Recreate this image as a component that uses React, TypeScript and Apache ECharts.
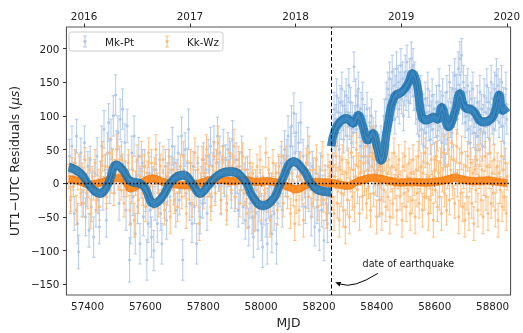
import React, { useEffect, useRef } from "react";
import * as echarts from "echarts";

const FONT = "'DejaVu Sans', sans-serif";

// [MJD, residual (µs), error (µs)]
const mkPtPoints: number[][] = [
  [57338,40,25],[57342,-20,22],[57346,55,30],[57350,10,20],[57354,-45,25],[57358,30,18],[57362,70,25],[57366,-60,30],[57369,-102,25],[57373,20,20],
  [57377,45,22],[57381,-30,20],[57385,5,18],[57389,60,25],[57393,-50,28],[57397,-15,20],[57401,25,22],[57405,-70,25],[57409,35,20],[57413,-35,22],
  [57417,0,18],[57421,-80,30],[57425,15,20],[57429,-40,25],[57433,40,28],[57437,-25,20],[57441,-65,25],[57445,10,22],[57449,55,30],[57453,-20,20],
  [57457,80,28],[57461,20,22],[57465,-55,25],[57469,45,30],[57473,90,28],[57477,-10,20],[57481,65,30],[57485,30,22],[57489,100,30],[57493,10,25],
  [57497,131,30],[57501,50,28],[57505,75,25],[57509,-30,25],[57513,95,30],[57517,40,22],[57521,110,30],[57525,5,25],[57529,60,28],[57533,-40,30],
  [57537,85,25],[57541,20,22],[57545,-114,33],[57549,-60,30],[57553,45,25],[57557,-20,28],[57561,70,30],[57565,-75,30],[57569,10,22],[57573,-35,25],
  [57577,40,28],[57581,-90,30],[57585,0,22],[57589,30,20],[57593,-50,28],[57597,25,25],[57601,-20,22],[57605,-114,30],[57609,-60,28],[57613,15,25],
  [57617,-40,25],[57621,-80,30],[57625,5,20],[57629,-100,30],[57633,-30,25],[57637,20,22],[57641,-60,28],[57645,-15,22],[57649,35,25],[57653,-45,25],
  [57657,-90,30],[57661,0,20],[57665,-30,22],[57669,25,25],[57673,-55,28],[57677,10,20],[57681,40,25],[57685,-20,22],[57689,20,20],[57693,55,28],
  [57697,-10,22],[57701,30,25],[57705,-40,25],[57709,15,20],[57713,45,25],[57717,-25,22],[57721,5,20],[57725,70,28],[57729,-114,30],[57733,20,22],
  [57737,50,25],[57741,-15,20],[57745,30,22],[57749,80,30],[57753,-30,25],[57757,10,20],[57761,-60,28],[57765,25,22],[57769,-35,25],[57773,0,20],
  [57777,-90,30],[57781,30,25],[57785,-20,22],[57789,-50,25],[57793,5,20],[57797,-30,22],[57801,35,25],[57805,-10,20],[57809,20,22],[57813,-45,25],
  [57817,40,25],[57821,0,20],[57825,55,28],[57829,-20,22],[57833,25,20],[57837,60,25],[57841,-5,22],[57845,30,20],[57849,70,28],[57853,10,22],
  [57857,45,25],[57861,-25,22],[57865,20,20],[57869,55,25],[57873,0,20],[57877,35,22],[57881,-30,25],[57885,50,25],[57889,15,20],[57893,40,22],
  [57897,-15,22],[57901,65,28],[57905,20,20],[57909,-20,22],[57913,35,25],[57917,5,20],[57921,-40,25],[57925,25,22],[57929,-10,20],[57933,45,25],
  [57937,-35,25],[57941,10,20],[57945,-55,28],[57949,-15,22],[57953,20,20],[57957,-65,28],[57961,-30,22],[57965,5,20],[57969,-50,25],[57973,-80,30],
  [57977,-20,22],[57981,-45,25],[57985,-10,20],[57989,-70,28],[57993,-35,22],[57997,0,20],[58001,-60,25],[58005,-95,30],[58009,-40,22],[58013,-15,20],
  [58017,-55,25],[58021,-90,30],[58025,-30,22],[58029,-5,20],[58033,-50,25],[58037,-75,28],[58041,-20,22],[58045,-45,25],[58049,5,22],[58053,-90,30],
  [58057,-30,22],[58061,15,25],[58065,-15,20],[58069,30,25],[58073,-40,25],[58077,20,22],[58081,50,28],[58085,0,20],[58089,40,25],[58093,70,30],
  [58097,15,22],[58101,55,28],[58105,85,30],[58109,30,25],[58113,104,30],[58117,45,25],[58121,75,28],[58125,10,22],[58129,60,30],[58133,25,22],
  [58137,90,30],[58141,-10,25],[58145,40,25],[58149,0,22],[58153,-35,25],[58157,20,22],[58161,55,28],[58165,-20,22],[58169,10,20],[58173,-50,28],
  [58177,25,22],[58181,-15,20],[58185,-65,28],[58189,15,22],[58193,-35,25],[58197,-5,20],[58201,-70,30],[58205,20,25],[58209,-40,25],[58213,-10,22],
  [58217,-85,30],[58221,5,22],[58225,-30,25],[58229,-60,28],[58233,-20,25],[58237,10,22],[58240,-45,25],
  [58246,30,20],[58249,80,22],[58252,110,25],[58255,60,20],[58258,95,22],[58261,130,25],[58264,75,20],[58267,105,22],[58270,50,25],[58273,120,25],
  [58276,85,20],[58279,140,25],[58282,100,22],[58285,65,20],[58288,115,22],[58291,90,20],[58294,130,25],[58297,70,22],[58300,105,22],[58303,145,25],
  [58306,85,20],[58309,120,22],[58312,60,22],[58315,100,20],[58318,75,22],[58321,173,22],[58324,95,20],[58327,130,25],[58330,80,20],[58333,115,22],
  [58336,140,25],[58339,90,22],[58342,55,22],[58345,110,25],[58348,75,20],[58351,125,25],[58354,60,22],[58357,95,22],[58360,40,22],[58363,80,20],
  [58366,110,25],[58369,55,22],[58372,30,25],[58375,90,22],[58378,65,20],[58381,100,25],[58384,45,22],[58387,75,22],[58390,20,25],[58393,60,22],
  [58396,85,22],[58399,35,25],[58402,5,25],[58405,50,22],[58408,-25,25],[58411,25,22],[58414,60,25],[58417,0,25],[58420,40,22],[58423,75,25],
  [58426,100,25],[58429,60,22],[58432,125,25],[58435,90,22],[58438,140,25],[58441,110,22],[58444,155,25],[58447,100,22],[58450,130,25],[58453,165,25],
  [58456,115,22],[58459,145,25],[58462,95,22],[58465,135,25],[58468,170,25],[58471,120,22],[58474,150,25],[58477,110,22],[58480,140,25],[58483,175,25],
  [58486,125,22],[58489,155,25],[58492,100,22],[58495,140,25],[58498,165,25],[58501,130,22],[58504,180,25],[58507,145,22],[58510,120,22],[58513,160,25],
  [58516,140,22],[58519,185,25],[58522,150,22],[58525,175,25],[58528,130,22],[58531,155,25],[58534,110,22],[58537,140,25],[58540,95,22],[58543,120,25],
  [58546,70,22],[58549,100,22],[58552,135,25],[58555,80,22],[58558,110,22],[58561,55,25],[58564,95,22],[58567,125,25],[58570,75,22],[58573,105,22],
  [58576,140,25],[58579,85,22],[58582,115,22],[58585,65,22],[58588,100,22],[58591,130,25],[58594,80,22],[58597,110,22],[58600,35,25],[58603,90,22],
  [58606,120,25],[58609,70,22],[58612,100,22],[58615,145,25],[58618,85,22],[58621,115,22],[58624,60,22],[58627,130,25],[58630,95,22],[58633,50,22],
  [58636,110,25],[58639,80,22],[58642,135,25],[58645,65,22],[58648,100,22],[58651,150,25],[58654,90,22],[58657,120,22],[58660,75,22],[58663,140,25],
  [58666,105,22],[58669,160,25],[58672,115,22],[58675,140,22],[58678,95,22],[58681,170,25],[58684,125,22],[58687,185,25],[58690,140,22],[58693,190,25],
  [58696,110,22],[58699,150,25],[58702,120,22],[58705,90,22],[58708,135,25],[58711,100,22],[58714,145,25],[58717,80,22],[58720,115,22],[58723,60,25],
  [58726,125,25],[58729,95,22],[58732,140,25],[58735,75,22],[58738,105,22],[58741,50,25],[58744,90,22],[58747,120,25],[58750,70,22],[58753,100,22],
  [58756,135,25],[58759,80,22],[58762,110,22],[58765,55,22],[58768,95,22],[58771,130,25],[58774,75,22],[58777,105,22],[58780,145,25],[58783,90,22],
  [58786,120,22],[58789,65,22],[58792,110,25],[58795,150,25],[58798,95,22],[58801,125,22],[58804,80,22],[58807,140,25],[58810,100,22],[58813,160,25],
  [58816,115,22],[58819,145,25],[58822,90,22],[58825,130,25],[58828,105,22],[58831,150,25],[58834,85,22],[58837,120,22],[58840,60,25],[58843,110,22],
  [58846,140,25],[58849,95,22],
];

const kkWzPoints: number[][] = [
  [57336,10,18],[57341,-25,20],[57346,20,18],[57351,-5,15],[57356,30,20],[57361,-40,22],[57366,5,15],[57371,25,18],[57376,-15,18],[57381,15,15],
  [57386,-30,20],[57391,35,18],[57396,0,15],[57401,-20,18],[57406,20,18],[57411,-45,22],[57416,10,15],[57421,-10,15],[57426,30,20],[57431,-25,18],
  [57436,5,15],[57441,-35,20],[57446,15,18],[57451,40,22],[57456,-5,15],[57461,25,18],[57466,-20,18],[57471,10,15],[57476,45,22],[57481,0,15],
  [57486,30,20],[57491,-15,18],[57496,20,15],[57501,50,22],[57506,5,15],[57511,35,20],[57516,-10,15],[57521,25,18],[57526,-30,20],[57531,15,18],
  [57536,-5,15],[57541,30,20],[57546,-40,22],[57551,-10,18],[57556,20,20],[57561,-55,25],[57566,0,18],[57571,35,22],[57576,-25,20],[57581,10,15],
  [57586,40,22],[57591,-15,18],[57596,25,18],[57601,-35,22],[57606,15,18],[57611,45,22],[57616,-5,15],[57621,30,20],[57626,-20,18],[57631,20,18],
  [57636,50,22],[57641,0,15],[57646,-30,20],[57651,25,18],[57656,-10,15],[57661,35,20],[57666,-40,22],[57671,10,15],[57676,-15,18],[57681,30,20],
  [57686,-50,25],[57691,5,15],[57696,20,18],[57701,-25,20],[57706,15,15],[57711,-35,22],[57716,0,15],[57721,25,18],[57726,-20,18],[57731,40,22],
  [57736,-5,15],[57741,-45,22],[57746,15,18],[57751,-10,15],[57756,30,20],[57761,-30,20],[57766,5,15],[57771,45,22],[57776,-15,18],[57781,20,18],
  [57786,-60,25],[57791,0,15],[57796,35,20],[57801,-20,18],[57806,15,15],[57811,50,22],[57816,-5,15],[57821,25,18],[57826,-35,20],[57831,10,15],
  [57836,40,22],[57841,-15,18],[57846,30,20],[57851,60,25],[57856,5,15],[57861,-25,20],[57866,35,20],[57871,0,15],[57876,20,18],[57881,-40,22],
  [57886,15,18],[57891,45,22],[57896,-10,15],[57901,25,18],[57906,55,25],[57911,-20,18],[57916,10,15],[57921,35,20],[57926,-30,20],[57931,5,15],
  [57936,40,20],[57941,-15,18],[57946,20,18],[57951,-45,22],[57956,0,15],[57961,30,20],[57966,-25,18],[57971,15,15],[57976,-50,22],[57981,5,15],
  [57986,25,18],[57991,-20,18],[57996,35,20],[58001,-35,20],[58006,10,15],[58011,-10,15],[58016,45,22],[58021,-25,18],[58026,20,18],[58031,-55,25],
  [58036,0,15],[58041,30,20],[58046,-15,18],[58051,15,15],[58056,-40,22],[58061,25,18],[58066,-5,15],[58071,40,22],[58076,-30,20],[58081,10,15],
  [58086,35,20],[58091,-20,18],[58096,5,15],[58101,-45,22],[58106,15,18],[58111,-15,18],[58116,-60,25],[58121,-25,20],[58126,10,18],[58131,-40,22],
  [58136,25,20],[58141,-10,15],[58146,-55,25],[58151,0,15],[58156,30,22],[58161,-20,18],[58166,45,25],[58171,5,15],[58176,-30,20],[58181,20,18],
  [58186,-10,15],[58191,35,22],[58196,-35,20],[58201,10,15],[58206,-15,18],[58211,40,22],[58216,-25,18],[58221,5,15],[58226,-45,22],[58231,25,18],
  [58236,-5,15],[58240,15,18],
  [58245,-20,20],[58249,25,20],[58252,-45,25],[58256,10,18],[58259,40,22],[58263,-30,22],[58266,5,18],[58270,-55,25],[58273,20,20],[58277,-15,20],
  [58280,35,22],[58284,-40,25],[58287,0,18],[58291,-65,25],[58294,15,20],[58298,-25,22],[58301,30,22],[58305,-50,25],[58308,5,18],[58312,45,25],
  [58315,-20,20],[58319,20,20],[58322,-35,22],[58326,10,18],[58329,50,25],[58333,-10,20],[58336,25,20],[58340,-45,25],[58343,15,18],[58347,40,22],
  [58350,-20,20],[58354,30,22],[58357,0,18],[58361,55,25],[58364,-30,22],[58368,20,20],[58371,-5,18],[58375,40,22],[58378,-40,25],[58382,25,20],
  [58385,60,25],[58389,-15,20],[58392,35,22],[58396,0,18],[58399,-50,25],[58403,20,20],[58406,45,22],[58410,-25,22],[58413,10,18],[58417,-45,25],
  [58420,30,22],[58424,-10,18],[58427,40,22],[58431,-35,22],[58434,15,18],[58438,-20,20],[58441,35,22],[58445,-50,25],[58448,5,18],[58452,25,20],
  [58455,-30,22],[58459,45,22],[58462,-5,18],[58466,20,20],[58469,-40,22],[58473,10,18],[58476,35,22],[58480,-20,20],[58483,0,18],[58487,-55,25],
  [58490,25,20],[58494,-15,20],[58497,40,22],[58501,-35,22],[58504,10,18],[58508,-10,18],[58511,30,22],[58515,-45,25],[58518,15,20],[58522,-25,20],
  [58525,35,22],[58529,0,18],[58532,-50,25],[58536,20,20],[58539,-15,20],[58543,40,22],[58546,-30,22],[58550,5,18],[58553,25,20],[58557,-40,25],
  [58560,15,18],[58564,-20,20],[58567,45,22],[58571,-5,18],[58574,30,22],[58578,-45,25],[58581,10,18],[58585,-25,20],[58588,35,22],[58592,0,18],
  [58595,-55,25],[58599,20,20],[58602,-10,18],[58606,40,22],[58609,-35,22],[58613,15,18],[58616,-20,20],[58620,30,22],[58623,-45,25],[58627,5,18],
  [58630,45,25],[58634,-15,20],[58637,25,20],[58641,-40,22],[58644,10,18],[58648,50,25],[58651,-25,22],[58655,20,20],[58658,60,25],[58662,-5,18],
  [58665,35,22],[58669,-30,22],[58672,15,18],[58676,55,25],[58679,0,20],[58683,-50,25],[58686,30,22],[58690,-15,20],[58693,45,25],[58697,-35,22],
  [58700,10,18],[58704,-55,25],[58707,25,22],[58711,-20,20],[58714,40,22],[58718,-45,25],[58721,5,18],[58725,30,22],[58728,-30,22],[58732,15,20],
  [58735,-60,25],[58739,20,20],[58742,-10,18],[58746,35,22],[58749,-40,25],[58753,10,18],[58756,50,25],[58760,-25,22],[58763,20,20],[58767,-50,25],
  [58770,0,18],[58774,40,22],[58777,-20,20],[58781,25,20],[58784,-45,25],[58788,10,18],[58791,45,22],[58795,-30,22],[58798,15,18],[58802,-15,20],
  [58805,35,22],[58809,-40,25],[58812,5,18],[58816,25,20],[58819,-55,25],[58823,15,18],[58826,-10,20],[58830,40,22],[58833,-35,22],[58837,20,20],
  [58840,-20,20],[58844,30,22],[58847,-45,25],[58850,10,20],
];

// smoothed fits [MJD, value]
const mkPtFitPre: number[][] = [
  [57335,24],[57375,15],[57409,-5],[57443,-15],[57472,0],[57500,27],[57523,19],[57545,4],[57591,-3],[57630,-30],[57659,-20],[57693,4],
  [57733,12],[57761,0],[57789,-15],[57818,-3],[57852,12],[57897,17],[57943,4],[57971,-20],[58005,-33],[58039,-25],[58068,0],[58113,32],
  [58147,19],[58181,-5],[58215,-12],[58242,-13],
];
const mkPtFitPost: number[][] = [
  [58242,55],[58256,80],[58272,91],[58295,96],[58318,89],[58335,101],[58352,84],[58369,64],[58386,74],[58400,55],[58414,34],[58437,84],
  [58460,128],[58488,136],[58510,150],[58522,163],[58539,146],[58556,98],[58573,94],[58596,98],[58610,95],[58624,113],[58647,84],[58670,106],
  [58687,133],[58704,113],[58732,108],[58766,91],[58800,98],[58823,131],[58834,108],[58851,113],
];
const kkWzFit: number[][] = [
  [57335,6],[57370,3],[57410,-2],[57445,1],[57475,5],[57505,8],[57530,3],[57548,-8],[57570,-4],[57600,4],[57625,7],[57660,2],[57695,-1],
  [57740,-3],[57780,-1],[57820,4],[57860,5],[57900,3],[57940,5],[57980,2],[58020,3],[58060,0],[58090,-5],[58123,-9],[58150,-4],[58190,2],
  [58220,1],[58250,0],[58280,-3],[58300,-4],[58330,2],[58360,6],[58386,8],[58420,6],[58450,3],[58480,1],[58520,2],[58560,1],[58600,2],
  [58640,5],[58670,8],[58700,5],[58740,3],[58780,4],[58820,2],[58851,0],
];
const mkPtBand = 6.3;
const kkWzBand = 5.5;

const earthquakeMjd = 58242;
const xTicks = [57400, 57600, 57800, 58000, 58200, 58400, 58600, 58800];
const yTicks = [-150, -100, -50, 0, 50, 100, 150, 200];
const yearTickMjd = [57388, 57754, 58119, 58484, 58849];
const yearLabels = ["2016", "2017", "2018", "2019", "2020"];

const X_MIN = 57327, X_MAX = 58862, Y_MIN = -166, Y_MAX = 232;
const GRID_TOP = 27, GRID_BOTTOM = 38;
const PX_PER_UNIT = (333 - GRID_TOP - GRID_BOTTOM) / (Y_MAX - Y_MIN);

function errRender(color: string, lineOpacity: number) {
  return (_params: any, api: any) => {
    const x = api.value(0), y = api.value(1), e = api.value(2);
    const c = api.coord([x, y]);
    const t = api.coord([x, y + e]);
    const b = api.coord([x, y - e]);
    const st = { stroke: color, lineWidth: 1.1, opacity: lineOpacity };
    return {
      type: "group",
      children: [
        { type: "line", shape: { x1: c[0], y1: t[1], x2: c[0], y2: b[1] }, style: st },
        { type: "line", shape: { x1: c[0] - 1.7, y1: t[1], x2: c[0] + 1.7, y2: t[1] }, style: st },
        { type: "line", shape: { x1: c[0] - 1.7, y1: b[1], x2: c[0] + 1.7, y2: b[1] }, style: st },
        { type: "circle", shape: { cx: c[0], cy: c[1], r: 1.5 }, style: { fill: color, opacity: 0.95 } },
      ],
    };
  };
}

function bandSeries(fit: number[][], w: number, fill: string, edge: string, center: string, z: number) {
  return [
    {
      type: "line", smooth: 0.5, symbol: "none", silent: true, z,
      data: fit.map((p) => [p[0], p[1]]),
      lineStyle: { color: fill, width: 2 * w * PX_PER_UNIT, opacity: 0.88, cap: "butt", join: "round" },
    },
    {
      type: "line", smooth: 0.5, symbol: "none", silent: true, z: z + 0.1,
      data: fit.map((p) => [p[0], p[1] - w]),
      lineStyle: { color: edge, width: 0.7, opacity: 0.8 },
    },
    {
      type: "line", smooth: 0.5, symbol: "none", silent: true, z: z + 0.1,
      data: fit.map((p) => [p[0], p[1] + w]),
      lineStyle: { color: edge, width: 0.7, opacity: 0.8 },
    },
    {
      type: "line", smooth: 0.5, symbol: "none", silent: true, z: z + 0.2,
      data: fit.map((p) => [p[0], p[1]]),
      lineStyle: { color: center, width: 1.2 },
    },
  ];
}

const minus = (v: number) => (v < 0 ? "\u2212" + Math.abs(v) : String(v));

export default function App() {
  const ref = useRef<HTMLDivElement>(null);
  useEffect(() => {
    if (!ref.current) return;
    const chart = echarts.init(ref.current, undefined, { renderer: "svg" });
    const txt = { fontFamily: FONT, fontSize: 10.4, color: "#222" };
    chart.setOption({
      animation: false,
      grid: { left: 65, right: 8, top: GRID_TOP, bottom: GRID_BOTTOM, show: true, borderColor: "#555", borderWidth: 1.1, backgroundColor: "transparent" },
      xAxis: [
        {
          type: "value", min: X_MIN, max: X_MAX, position: "bottom",
          name: "MJD", nameLocation: "middle", nameGap: 21,
          nameTextStyle: { fontFamily: FONT, fontSize: 12.4, color: "#222" },
          axisLine: { show: false }, splitLine: { show: false },
          axisTick: { show: true, length: 3.5, lineStyle: { color: "#333" }, customValues: xTicks },
          axisLabel: { ...txt, margin: 6, customValues: xTicks, formatter: (v: number) => String(v) },
        },
        {
          type: "value", min: X_MIN, max: X_MAX, position: "top",
          axisLine: { show: false }, splitLine: { show: false },
          axisTick: { show: true, length: 3.5, lineStyle: { color: "#333" }, customValues: yearTickMjd },
          axisLabel: {
            ...txt, margin: 6, customValues: yearTickMjd,
            formatter: (v: number) => yearLabels[yearTickMjd.indexOf(Math.round(v))] ?? "",
          },
        },
      ],
      yAxis: {
        type: "value", min: Y_MIN, max: Y_MAX,
        name: "{a|UT1\u2212UTC Residuals (}{i|\u03bcs}{a|)}", nameLocation: "middle", nameGap: 40,
        nameTextStyle: {
          fontFamily: FONT, fontSize: 12.4, color: "#222",
          rich: {
            a: { fontFamily: FONT, fontSize: 12.4, color: "#222" },
            i: { fontFamily: FONT, fontSize: 12.4, color: "#222", fontStyle: "italic" },
          },
        },
        axisLine: { show: false }, splitLine: { show: false },
        axisTick: { show: true, length: 3.5, lineStyle: { color: "#333" }, customValues: yTicks },
        axisLabel: { ...txt, margin: 7, customValues: yTicks, formatter: (v: number) => minus(v) },
      },
      series: [
        {
          type: "custom", name: "Mk-Pt", data: mkPtPoints, encode: { x: 0, y: 1 },
          renderItem: errRender("#aec7e8", 0.85), z: 1, silent: true,
        },
        {
          type: "custom", name: "Kk-Wz", data: kkWzPoints, encode: { x: 0, y: 1 },
          renderItem: errRender("#ffbb78", 0.85), z: 2, silent: true,
        },
        ...bandSeries(kkWzFit, kkWzBand, "#ff7f0e", "#e86f05", "#ff9030", 3),
        ...bandSeries(mkPtFitPre, mkPtBand, "#1f77b4", "#175f93", "#4189c2", 4),
        ...bandSeries(mkPtFitPost, mkPtBand, "#1f77b4", "#175f93", "#4189c2", 4),
        {
          type: "line", data: [], z: 6, silent: true,
          markLine: {
            silent: true, symbol: "none", animation: false,
            label: { show: false },
            data: [
              { yAxis: 0, lineStyle: { color: "#000", type: [1.5, 2], width: 1.3 } },
              { xAxis: earthquakeMjd, lineStyle: { color: "#000", type: [4, 2.5], width: 1 } },
            ],
          },
        },
      ],
    });

    const p = (v: number[]) => chart.convertToPixel({ xAxisIndex: 0, yAxisIndex: 0 }, v) as number[];
    const tip = p([58256, -147]);
    const start = p([58403, -134]);
    const ctrl = p([58318, -157]);
    const label = p([58509, -119]);
    const dx = tip[0] - ctrl[0], dy = tip[1] - ctrl[1];
    const len = Math.hypot(dx, dy) || 1;
    const ux = dx / len, uy = dy / len;
    const ah = 5.5, aw = 2.4;
    const base = [tip[0] - ux * ah, tip[1] - uy * ah];
    const lx = 69, ly = 32;
    const legendItem = (x: number, color: string, text: string) => [
      { type: "line", shape: { x1: x, y1: ly + 4, x2: x, y2: ly + 15 }, style: { stroke: color, lineWidth: 1 } },
      { type: "line", shape: { x1: x - 1.8, y1: ly + 4, x2: x + 1.8, y2: ly + 4 }, style: { stroke: color, lineWidth: 1 } },
      { type: "line", shape: { x1: x - 1.8, y1: ly + 15, x2: x + 1.8, y2: ly + 15 }, style: { stroke: color, lineWidth: 1 } },
      { type: "circle", shape: { cx: x, cy: ly + 9.5, r: 1.6 }, style: { fill: color } },
      {
        type: "text", x: x + 20, y: ly + 9.5,
        style: { text, fontFamily: FONT, fontSize: 10.4, fill: "#222", verticalAlign: "middle", align: "left" },
      },
    ];
    chart.setOption({
      graphic: [
        {
          type: "rect", shape: { x: lx, y: ly, width: 154, height: 19, r: 2.5 },
          style: { fill: "rgba(255,255,255,0.8)", stroke: "#ccc", lineWidth: 1 }, z: 50,
        },
        ...legendItem(85, "#aec7e8", "Mk-Pt").map((e) => ({ ...e, z: 51 })),
        ...legendItem(167, "#ffbb78", "Kk-Wz").map((e) => ({ ...e, z: 51 })),
        {
          type: "text", x: label[0], y: label[1], z: 51,
          style: { text: "date of earthquake", fontFamily: FONT, fontSize: 9.6, fill: "#222", align: "center", verticalAlign: "middle" },
        },
        {
          type: "bezierCurve", z: 51,
          shape: { x1: start[0], y1: start[1], cpx1: ctrl[0], cpy1: ctrl[1], x2: base[0], y2: base[1] },
          style: { stroke: "#000", lineWidth: 1, fill: "none" },
        },
        {
          type: "polygon", z: 51,
          shape: {
            points: [
              [tip[0], tip[1]],
              [base[0] - uy * aw, base[1] + ux * aw],
              [base[0] + uy * aw, base[1] - ux * aw],
            ],
          },
          style: { fill: "#000" },
        },
      ],
    });
    return () => chart.dispose();
  }, []);
  return <div ref={ref} style={{ position: "fixed", left: 0, top: 0, width: 523, height: 333 }} />;
}
